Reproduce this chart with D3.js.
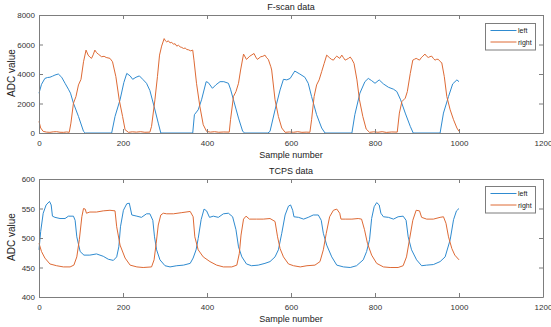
<!DOCTYPE html>
<html><head><meta charset="utf-8">
<script src="https://cdn.jsdelivr.net/npm/d3@7"></script>
<style>
html,body{margin:0;padding:0;background:#fff;}
svg{display:block;font-family:"Liberation Sans",Arial,sans-serif;}
</style></head>
<body><svg id="c" width="551" height="327"></svg>
<script>
// ---------- data ----------
const seriesNames = ["left", "right"];
const xTicks = [0, 200, 400, 600, 800, 1000, 1200];
const fscanYTicks = [0, 2000, 4000, 6000, 8000];
const tcpsYTicks = [400, 450, 500, 550, 600];

const fscanLeft = [[0,2700],[6,3300],[14,3700],[20,3760],[26,3780],[32,3850],[38,3930],[46,4000],[54,3780],[62,3370],[70,2970],[75,2700],[82,2020],[94,1120],[106,110],[110,0],[173,0],[181,1120],[193,2250],[202,3420],[209,4040],[217,3870],[223,3640],[231,3780],[239,3870],[247,3640],[256,3370],[264,2880],[274,1800],[284,670],[290,0],[366,0],[370,1240],[379,1570],[387,2250],[398,3480],[403,3420],[413,3030],[421,3260],[431,3480],[440,3480],[451,3370],[456,2970],[463,2250],[475,1010],[485,110],[490,0],[545,0],[550,110],[562,1570],[574,2920],[582,3640],[590,3600],[598,3700],[609,4200],[621,4000],[633,3780],[641,3370],[649,2470],[661,1240],[673,340],[681,0],[745,0],[752,1240],[764,2700],[776,3480],[784,3700],[792,3550],[800,3370],[810,3600],[820,3330],[832,3100],[844,2970],[852,2810],[861,2250],[872,1350],[884,450],[891,0],[955,0],[963,1350],[975,2470],[985,3330],[995,3600],[1000,3480]];

const fscanRight = [[0,790],[4,340],[10,110],[18,60],[26,45],[34,80],[42,90],[50,50],[58,45],[66,70],[72,45],[76,670],[82,2020],[88,2470],[94,3260],[100,3640],[106,4830],[112,5620],[117,5280],[121,5150],[125,5060],[129,5300],[133,5620],[137,5450],[141,5350],[149,5170],[155,5200],[160,5120],[169,5060],[175,4830],[183,3820],[191,2250],[199,1120],[205,220],[213,45],[222,80],[232,60],[242,90],[252,50],[264,60],[268,450],[276,2250],[282,3820],[287,5280],[292,5890],[298,6400],[301,6250],[304,6180],[308,6250],[312,6110],[316,6150],[320,6020],[324,6050],[328,5890],[332,5950],[336,5840],[340,5800],[344,5730],[348,5760],[352,5660],[356,5640],[361,5570],[366,5620],[369,4940],[375,3370],[383,1800],[391,560],[399,110],[408,60],[418,90],[428,50],[440,70],[453,60],[456,900],[463,2470],[469,2810],[475,3370],[480,4270],[487,5350],[494,4990],[502,5210],[507,5300],[512,5390],[516,5150],[520,4990],[528,5170],[533,5200],[538,5280],[542,5100],[546,4990],[552,4490],[554,4270],[562,2250],[570,1120],[578,340],[586,45],[596,70],[606,50],[616,90],[626,45],[636,60],[645,50],[649,900],[655,2470],[661,3260],[667,3600],[673,4160],[679,4720],[685,5280],[691,5120],[696,5000],[701,4940],[705,5100],[709,5210],[716,5060],[721,5280],[725,5100],[729,4940],[733,5000],[737,5060],[741,5150],[745,4990],[750,4720],[757,3600],[763,2250],[771,1120],[779,270],[787,45],[797,80],[807,50],[817,90],[827,40],[840,70],[853,60],[858,1350],[864,2130],[872,2360],[877,2810],[884,4040],[890,4940],[894,5000],[898,5060],[902,5000],[906,4940],[910,5100],[914,5210],[919,5350],[923,5200],[927,5120],[931,5180],[935,5210],[939,5050],[943,4940],[947,5000],[951,4990],[955,4850],[959,4760],[965,3820],[971,2470],[979,1570],[987,900],[995,340],[1000,110]];

const tcpsLeft = [[0,480],[4,511],[10,542],[17,556],[25,562],[29,556],[32,537],[38,535],[50,533],[62,533],[70,537],[82,537],[86,530],[90,502],[98,477],[107,471],[121,471],[137,473],[153,469],[165,464],[177,462],[185,468],[190,485],[194,519],[201,547],[209,558],[215,559],[221,539],[233,537],[244,535],[256,541],[264,541],[271,530],[275,502],[280,480],[288,463],[300,453],[312,451],[328,453],[344,454],[360,457],[367,466],[374,480],[379,499],[386,531],[393,549],[399,546],[406,535],[415,537],[427,535],[439,541],[451,542],[461,536],[469,514],[475,485],[483,468],[494,456],[506,453],[522,454],[538,457],[550,460],[562,468],[570,480],[578,508],[586,539],[594,554],[599,556],[604,547],[607,536],[618,535],[630,532],[641,535],[653,539],[665,539],[672,530],[677,508],[685,488],[697,468],[709,454],[725,451],[741,450],[756,453],[772,463],[780,477],[787,497],[792,533],[798,553],[804,560],[810,556],[814,542],[820,536],[832,535],[844,532],[855,536],[867,537],[874,530],[879,502],[887,480],[899,463],[911,453],[923,454],[939,455],[955,460],[967,468],[979,497],[987,531],[994,546],[1000,550]];

const tcpsRight = [[0,491],[6,477],[14,466],[26,456],[42,453],[58,451],[74,451],[83,454],[90,468],[96,497],[102,536],[106,550],[110,549],[113,542],[121,544],[137,544],[153,546],[169,547],[181,546],[185,519],[193,488],[205,466],[217,454],[233,451],[248,450],[268,451],[274,463],[279,491],[284,522],[290,539],[296,542],[304,541],[320,541],[340,543],[360,545],[367,536],[371,502],[379,480],[391,468],[407,460],[423,454],[439,451],[459,451],[471,454],[477,474],[481,505],[487,532],[493,537],[501,532],[518,532],[534,532],[550,533],[562,528],[568,502],[574,482],[582,468],[594,456],[606,453],[622,451],[638,453],[657,454],[669,460],[677,480],[684,508],[692,536],[701,547],[709,549],[716,542],[719,532],[729,532],[745,532],[760,533],[768,532],[775,514],[782,491],[792,471],[804,457],[820,451],[836,450],[855,450],[867,453],[875,468],[882,497],[890,530],[898,547],[906,546],[911,535],[923,532],[939,532],[955,535],[963,536],[969,525],[975,502],[983,482],[990,471],[1000,463]];

// ---------- drawing ----------
const colors = ["#2f8bd0", "#de6a35"];
const axisColor = "#7d7d7d";
const textColor = "#333";
const svg = d3.select("#c");
const L = 39, R = 543;

function panel(cfg) {
  const x = d3.scaleLinear().domain([0, 1200]).range([L, R]);
  const y = d3.scaleLinear().domain(cfg.yDomain).range([cfg.bottom, cfg.top]);
  const g = svg.append("g");
  g.append("rect").attr("x", L).attr("y", cfg.top).attr("width", R - L).attr("height", cfg.bottom - cfg.top)
    .attr("fill", "#fff");

  const line = d3.line().x(d => x(d[0])).y(d => y(d[1]));
  cfg.series.forEach((s, i) => {
    g.append("path").datum(s).attr("d", line).attr("fill", "none")
      .attr("stroke", colors[i]).attr("stroke-width", 1).attr("stroke-linejoin", "round");
  });

  const styleAxis = sel => {
    sel.select(".domain").attr("stroke", axisColor);
    sel.selectAll(".tick line").attr("stroke", axisColor);
    sel.selectAll(".tick text").attr("fill", textColor).attr("font-size", 8)
      .attr("font-family", "'Liberation Sans', Arial, sans-serif");
  };
  g.append("g").attr("transform", `translate(0,${cfg.bottom})`)
    .call(d3.axisBottom(x).tickValues(xTicks).tickSizeInner(-4).tickSizeOuter(0).tickPadding(7).tickFormat(d3.format("d")))
    .call(styleAxis);
  g.append("g").attr("transform", `translate(0,${cfg.top})`)
    .call(d3.axisTop(x).tickValues(xTicks).tickSizeInner(-4).tickSizeOuter(0).tickFormat(""))
    .call(styleAxis);
  g.append("g").attr("transform", `translate(${L},0)`)
    .call(d3.axisLeft(y).tickValues(cfg.yTicks).tickSizeInner(-4).tickSizeOuter(0).tickPadding(4).tickFormat(d3.format("d")))
    .call(styleAxis);
  g.append("g").attr("transform", `translate(${R},0)`)
    .call(d3.axisRight(y).tickValues(cfg.yTicks).tickSizeInner(-4).tickSizeOuter(0).tickFormat(""))
    .call(styleAxis);

  g.append("text").attr("x", (L + R) / 2).attr("y", cfg.top - 5).attr("text-anchor", "middle")
    .attr("font-size", 9).attr("fill", "#222").text(cfg.title);
  g.append("text").attr("x", (L + R) / 2).attr("y", cfg.bottom + 25).attr("text-anchor", "middle")
    .attr("font-size", 9).attr("fill", "#222").text("Sample number");
  g.append("text").attr("transform", `translate(15,${(cfg.top + cfg.bottom) / 2 - 1}) rotate(-90)`)
    .attr("text-anchor", "middle").attr("font-size", 10).attr("fill", "#222").text("ADC value");

  // legend
  const lg = g.append("g").attr("transform", `translate(485.5,${cfg.legendTop})`);
  lg.append("rect").attr("x", 0).attr("y", 0).attr("width", 50).attr("height", 26.5)
    .attr("fill", "#fff").attr("stroke", axisColor).attr("stroke-width", 1);
  seriesNames.forEach((n, i) => {
    const yy = 7 + i * 11.5;
    lg.append("line").attr("x1", 5).attr("x2", 31).attr("y1", yy).attr("y2", yy)
      .attr("stroke", colors[i]).attr("stroke-width", 1);
    lg.append("text").attr("x", 32.5).attr("y", yy + 2.5).attr("font-size", 7).attr("fill", "#222").text(n);
  });
}

panel({title: "F-scan data", top: 15, bottom: 133, yDomain: [0, 8000], yTicks: fscanYTicks,
  series: [fscanLeft, fscanRight], legendTop: 23.5});
panel({title: "TCPS data", top: 179, bottom: 297, yDomain: [400, 600], yTicks: tcpsYTicks,
  series: [tcpsLeft, tcpsRight], legendTop: 186.5});
</script></body></html>
